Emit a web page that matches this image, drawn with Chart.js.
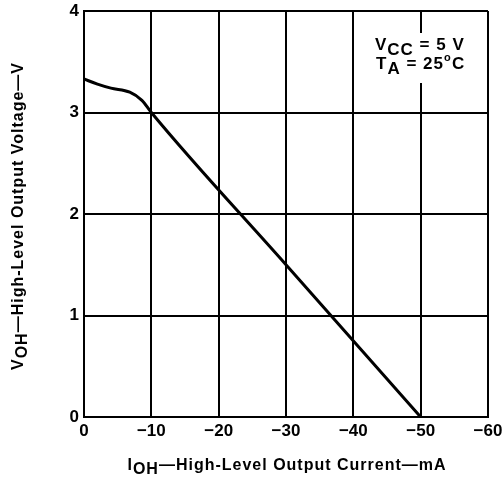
<!DOCTYPE html>
<html>
<head>
<meta charset="utf-8">
<script src="https://cdn.jsdelivr.net/npm/chart.js@4/dist/chart.umd.min.js"></script>
<style>
  html, body { margin: 0; padding: 0; background: #fff; }
  #wrap { width: 502px; height: 482px; }
</style>
</head>
<body>
<div id="wrap"><canvas id="voh"></canvas></div>
<script>
// output current (mA) and output voltage (V)
const currentMA = [0, -2, -4, -6.8, -8.6, -10, -30, -50];
const voltageV = [3.33, 3.28, 3.24, 3.20, 3.12, 3.0, 1.5, 0];
const xTicks = [0, -10, -20, -30, -40, -50, -60];
const yTicks = [0, 1, 2, 3, 4];

const FONT = "'Liberation Sans', Arial, sans-serif";

// draws text pieces, some of them as subscript
function drawParts(ctx, parts, x, y, size) {
	let cx = x;
	parts.forEach(function(p) {
		ctx.font = "bold " + size + "px " + FONT;
		ctx.fillText(p[0], cx, p[1] ? y + size * 0.28 : y);
		cx += ctx.measureText(p[0]).width;
	});
	return cx - x;
}
function partsWidth(ctx, parts, size) {
	ctx.font = "bold " + size + "px " + FONT;
	let w = 0;
	parts.forEach(function(p) { w += ctx.measureText(p[0]).width; });
	return w;
}

const labelsPlugin = {
	id: "labels",
	afterDraw(chart) {
		const ctx = chart.ctx;
		ctx.save();
		ctx.fillStyle = "#000";
		ctx.textBaseline = "alphabetic";
		ctx.textAlign = "left";
		ctx.letterSpacing = "1px";

		// x title
		const xt = [["I", false], ["OH", true], ["\u2014High-Level Output Current\u2014mA", false]];
		const xw = partsWidth(ctx, xt, 16);
		drawParts(ctx, xt, 287 - xw / 2, 470, 16);

		// y title, rotated
		const yt = [["V", false], ["OH", true], ["\u2014High-Level Output Voltage\u2014V", false]];
		const yw = partsWidth(ctx, yt, 16);
		ctx.save();
		ctx.translate(23, 216);
		ctx.rotate(-Math.PI / 2);
		drawParts(ctx, yt, -yw / 2, 0, 16);
		ctx.restore();

		// conditions box, on white so the grid line stops behind it
		ctx.fillStyle = "#fff";
		ctx.fillRect(371, 33, 100, 50);
		ctx.fillStyle = "#000";
		drawParts(ctx, [["V", false], ["CC", true], [" = 5 V", false]], 375, 50, 17);
		const w = drawParts(ctx, [["T", false], ["A", true], [" = 25", false]], 376, 69, 17);
		ctx.font = "bold 11px " + FONT;
		ctx.fillText("o", 376 + w, 61);
		ctx.font = "bold 17px " + FONT;
		ctx.fillText("C", 376 + w + 8, 69);
		ctx.restore();
	}
};

new Chart(document.getElementById("voh"), {
	type: "scatter",
	data: {
		datasets: [{
			data: currentMA.map(function(c, i) { return { x: c, y: voltageV[i] }; }),
			showLine: true,
			borderColor: "#000",
			borderWidth: 3,
			pointRadius: 0,
			cubicInterpolationMode: "monotone",
			fill: false
		}]
	},
	options: {
		responsive: true,
		maintainAspectRatio: false,
		animation: false,
		layout: { padding: { left: 0, right: 14, top: 11, bottom: 0 } },
		plugins: { legend: { display: false }, tooltip: { enabled: false } },
		scales: {
			x: {
				type: "linear",
				min: -60,
				max: 0,
				reverse: true,
				afterBuildTicks: function(s) { s.ticks = xTicks.map(function(v) { return { value: v }; }); },
				afterFit: function(s) { s.height = 65; s.paddingLeft = 0; s.paddingRight = 0; },
				border: { display: true, color: "#000", width: 2 },
				grid: { color: "#000", lineWidth: 2, drawTicks: false },
				ticks: {
					padding: 4,
					color: "#000",
					maxRotation: 0,
					font: { family: FONT, size: 17, weight: "bold" },
					callback: function(v) { return v === 0 ? "0" : "\u2212" + Math.abs(v); }
				}
			},
			y: {
				type: "linear",
				min: 0,
				max: 4,
				afterBuildTicks: function(s) { s.ticks = yTicks.map(function(v) { return { value: v }; }); },
				afterFit: function(s) { s.width = 84; s.paddingTop = 0; s.paddingBottom = 0; },
				border: { display: true, color: "#000", width: 2 },
				grid: { color: "#000", lineWidth: 2, drawTicks: false },
				ticks: {
					padding: 5,
					color: "#000",
					font: { family: FONT, size: 17, weight: "bold" },
					callback: function(v) { return String(v); }
				}
			}
		}
	},
	plugins: [labelsPlugin]
});
</script>
</body>
</html>
